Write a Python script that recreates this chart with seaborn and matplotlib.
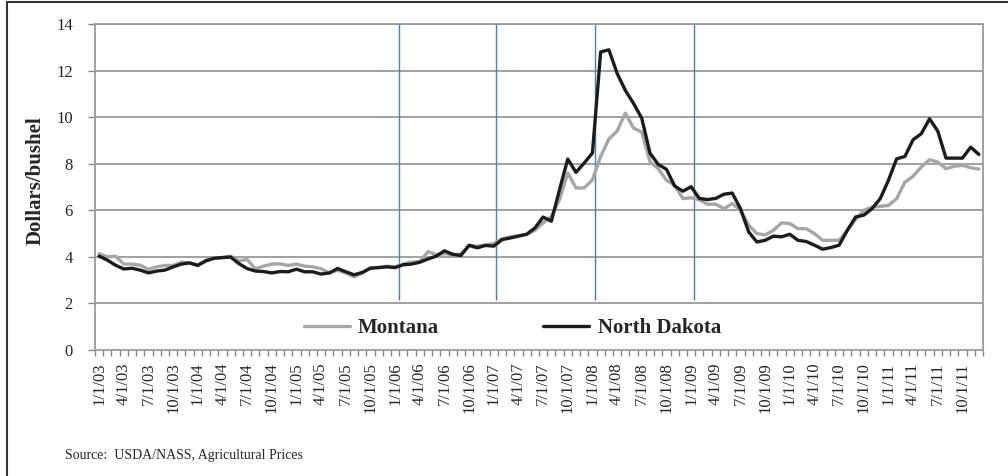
import numpy as np
import pandas as pd
import seaborn as sns
import matplotlib.pyplot as plt
from matplotlib.lines import Line2D

# monthly prices, Jan 2003 .. Dec 2011 (dollars/bushel)
north_dakota = [
    4.03, 3.86, 3.64, 3.48, 3.51, 3.43, 3.31, 3.39, 3.43, 3.57, 3.69, 3.74,
    3.63, 3.83, 3.94, 3.97, 3.99, 3.71, 3.50, 3.39, 3.37, 3.31, 3.37, 3.36,
    3.47, 3.36, 3.36, 3.26, 3.31, 3.50, 3.36, 3.23, 3.33, 3.51, 3.54, 3.57,
    3.54, 3.66, 3.69, 3.77, 3.91, 4.03, 4.26, 4.11, 4.06, 4.49, 4.39, 4.49,
    4.46, 4.74, 4.81, 4.89, 4.97, 5.24, 5.71, 5.53, 6.89, 8.20, 7.63, 8.03,
    8.46, 12.80, 12.89, 11.88, 11.15, 10.59, 9.95, 8.45, 7.97, 7.76, 7.04, 6.82,
    7.01, 6.51, 6.46, 6.51, 6.69, 6.74, 6.07, 5.07, 4.64, 4.71, 4.89, 4.86,
    4.97, 4.71, 4.66, 4.50, 4.33, 4.40, 4.50, 5.14, 5.71, 5.79, 6.07, 6.50,
    7.29, 8.21, 8.31, 9.03, 9.29, 9.93, 9.40, 8.24, 8.24, 8.24, 8.71, 8.40,
]
montana = [
    4.14, 4.00, 4.03, 3.69, 3.69, 3.64, 3.46, 3.57, 3.63, 3.63, 3.77, 3.74,
    3.66, 3.86, 3.94, 3.97, 4.03, 3.83, 3.89, 3.49, 3.60, 3.69, 3.70, 3.63,
    3.69, 3.60, 3.57, 3.49, 3.31, 3.43, 3.31, 3.14, 3.31, 3.54, 3.54, 3.60,
    3.57, 3.69, 3.77, 3.80, 4.23, 4.09, 4.14, 4.09, 4.11, 4.51, 4.46, 4.51,
    4.57, 4.77, 4.86, 4.91, 4.96, 5.14, 5.46, 5.74, 6.46, 7.60, 6.96, 6.96,
    7.31, 8.31, 9.06, 9.40, 10.17, 9.53, 9.36, 8.08, 7.79, 7.29, 7.08, 6.50,
    6.54, 6.45, 6.26, 6.26, 6.07, 6.29, 6.00, 5.36, 5.00, 4.94, 5.14, 5.46,
    5.43, 5.21, 5.21, 5.00, 4.71, 4.71, 4.71, 5.14, 5.60, 6.00, 6.14, 6.17,
    6.21, 6.50, 7.21, 7.46, 7.86, 8.17, 8.07, 7.79, 7.89, 7.93, 7.83, 7.77,
]
months = pd.date_range('2003-01-01', '2011-12-01', freq='MS')
tick_labels = [f'{d.month}/1/{d.strftime("%y")}' for d in months]

# vertical marker lines (in month-index units)
marker_pos = [36.5, 48.3, 60.3, 72.3]

df = pd.DataFrame({'idx': np.arange(len(months)), 'Montana': montana,
                   'North Dakota': north_dakota})

sns.set_style('white')
plt.rcParams['font.family'] = ['Liberation Serif', 'DejaVu Serif']

fig = plt.figure(figsize=(10.08, 4.76), dpi=100)
ax = fig.add_axes([95 / 1008, 1 - 350 / 476, 888 / 1008, 326 / 476])

for y in range(2, 15, 2):
    ax.axhline(y, color='#9a9a9a', lw=1.3, zorder=1)
ax.vlines(marker_pos, 2.15, 14, color='#4a7ebb', lw=1.0, zorder=2)

sns.lineplot(data=df, x='idx', y='Montana', ax=ax, color='#a6a6a6', lw=2.4,
             label='Montana', zorder=3)
sns.lineplot(data=df, x='idx', y='North Dakota', ax=ax, color='#1c1c1c', lw=2.4,
             label='North Dakota', zorder=4)

ax.set_xlim(-0.5, len(months) - 0.5)
ax.set_ylim(0, 14)
ax.set_yticks(range(0, 15, 2))
ax.set_xticks(range(0, len(months), 3))
ax.set_xticklabels(tick_labels[::3], rotation=90)
ax.set_xticks(np.arange(-0.5, len(months), 1), minor=True)
ax.tick_params(axis='x', which='major', length=0, pad=9, labelsize=12)
ax.tick_params(axis='x', which='minor', length=4, width=1, color='#888888',
               direction='out', bottom=True)
ax.tick_params(axis='y', length=5, width=1, color='#888888', direction='out',
               left=True, pad=11, labelsize=12)
for s in ax.spines.values():
    s.set_color('#9a9a9a')
    s.set_linewidth(1.3)

ax.set_xlabel('')
ax.set_ylabel('Dollars/bushel', fontsize=15, fontweight='bold')
ax.yaxis.set_label_coords(-0.056, 0.52)

ax.legend(loc='center', bbox_to_anchor=(0.47, 0.067), ncol=2, frameon=False,
          prop={'size': 15, 'weight': 'bold'}, handlelength=2.2,
          handletextpad=0.4, columnspacing=5.0)

fig.text(65 / 1008, 1 - 456 / 476, 'Source:  USDA/NASS, Agricultural Prices',
         fontsize=10, va='center')

# outer frame of the exhibit
fig.add_artist(Line2D([7 / 1008, 7 / 1008], [0, 1 - 2 / 476], color='#333333',
                      lw=1.5, transform=fig.transFigure))
fig.add_artist(Line2D([7 / 1008, 1], [1 - 2 / 476, 1 - 2 / 476], color='#333333',
                      lw=1.5, transform=fig.transFigure))

fig.savefig('out.png', dpi=100)
